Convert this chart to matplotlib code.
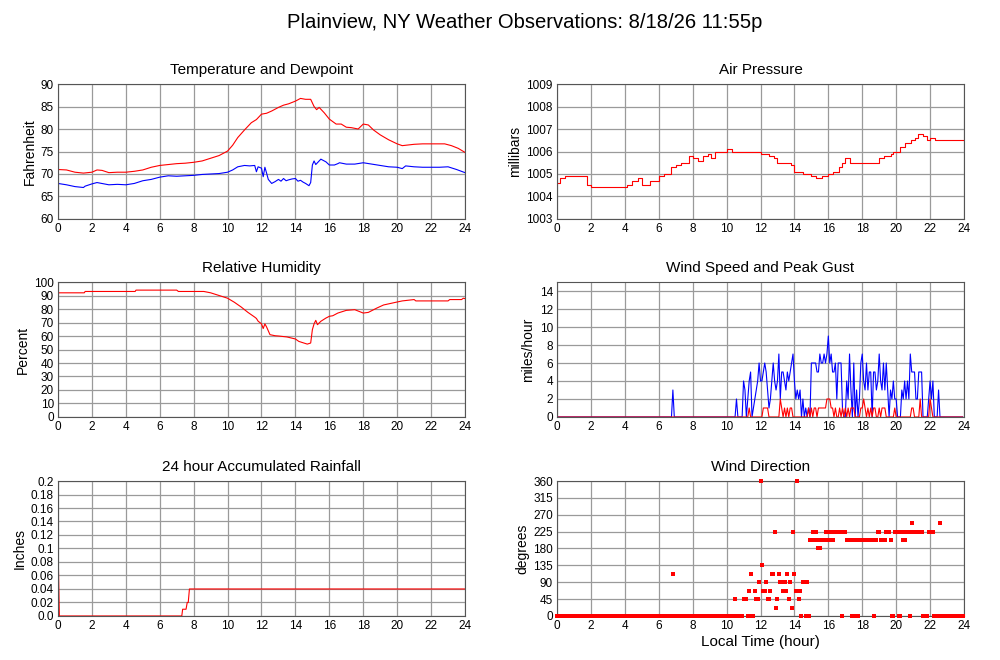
import numpy as np
import matplotlib
matplotlib.use("Agg")
import matplotlib.pyplot as plt

plt.rcParams['font.family'] = ['Liberation Sans', 'DejaVu Sans']

# Temperature and dewpoint (hour, deg F)
temp_hours = [0, 0.5, 1, 1.5, 2, 2.3, 2.6, 3, 3.5, 4, 4.5, 5, 5.5, 6, 6.5, 7, 7.5, 8,
              8.5, 9, 9.5, 10, 10.3, 10.6, 11, 11.4, 11.7, 12, 12.3, 12.6, 13, 13.3,
              13.6, 14, 14.3, 14.6, 14.9, 15.1, 15.25, 15.4, 15.7, 16, 16.4, 16.7, 17,
              17.3, 17.7, 18, 18.3, 18.6, 19, 19.5, 20, 20.3, 21, 21.5, 22, 22.8, 23.2,
              23.6, 24]
temp_vals = [71.0, 70.9, 70.4, 70.2, 70.4, 70.9, 70.8, 70.3, 70.4, 70.4, 70.6, 70.9,
             71.5, 71.9, 72.1, 72.3, 72.4, 72.6, 72.9, 73.5, 74.1, 75.1, 76.4, 78.1,
             79.8, 81.4, 82.1, 83.3, 83.5, 84.0, 84.8, 85.3, 85.6, 86.2, 86.8, 86.6,
             86.6, 85.0, 84.3, 84.8, 83.6, 82.2, 81.1, 81.1, 80.4, 80.3, 80.0, 81.1,
             80.9, 79.8, 78.7, 77.6, 76.7, 76.3, 76.6, 76.7, 76.7, 76.7, 76.3, 75.7,
             74.8]

dew_hours = [0, 0.5, 1, 1.5, 1.6, 2, 2.3, 3, 3.5, 4, 4.5, 5, 5.5, 6, 6.5, 7, 7.5, 8,
             8.5, 9, 9.5, 10, 10.3, 10.6, 11, 11.3, 11.6, 11.7, 11.8, 12.0, 12.1, 12.2,
             12.3, 12.4, 12.6, 12.8, 13, 13.15, 13.3, 13.45, 13.6, 13.8, 14, 14.15,
             14.3, 14.45, 14.6, 14.8, 14.9, 15.0, 15.1, 15.2, 15.3, 15.5, 15.8, 16,
             16.3, 16.5, 16.6, 17, 17.5, 18, 18.5, 19, 19.5, 20, 20.3, 20.5, 21, 21.5,
             22, 22.5, 23, 23.5, 24]
dew_vals = [67.9, 67.6, 67.2, 67.0, 67.3, 67.8, 68.1, 67.6, 67.7, 67.6, 67.9, 68.5,
            68.8, 69.3, 69.6, 69.5, 69.6, 69.7, 69.9, 70.0, 70.1, 70.4, 70.9, 71.6,
            71.9, 71.8, 71.9, 70.5, 71.6, 71.3, 69.4, 71.5, 70.2, 68.8, 67.9, 68.3,
            68.8, 68.4, 69.0, 68.5, 68.7, 68.9, 69.0, 68.4, 68.6, 68.2, 67.9, 67.4,
            68.1, 72.0, 72.9, 72.1, 72.5, 73.3, 72.7, 72.0, 72.0, 72.3, 72.5, 72.2,
            72.2, 72.5, 72.2, 71.9, 71.6, 71.5, 71.2, 71.8, 71.6, 71.5, 71.5, 71.5,
            71.6, 71.0, 70.3]

# Air pressure steps (hour, mb)
pres_hours = [0, 0.15, 0.5, 1.75, 2.0, 4.1, 4.4, 4.6, 4.8, 5.0, 5.5, 6.0, 6.3, 6.7,
              7.0, 7.3, 7.8, 8.0, 8.3, 8.6, 8.9, 9.1, 9.3, 10.0, 10.3, 12.0, 12.5,
              12.8, 13.0, 13.8, 14.0, 14.5, 15.0, 15.3, 15.6, 16.0, 16.3, 16.6, 16.8,
              17.0, 17.3, 19.0, 19.3, 19.7, 19.8, 20.2, 20.5, 20.9, 21.1, 21.3, 21.6,
              21.8, 22.0, 22.3, 24]
pres_vals = [1004.6, 1004.8, 1004.9, 1004.5, 1004.4, 1004.5, 1004.7, 1004.7, 1004.8,
             1004.5, 1004.7, 1004.9, 1005.0, 1005.3, 1005.4, 1005.5, 1005.8, 1005.7,
             1005.6, 1005.8, 1005.9, 1005.7, 1006.0, 1006.1, 1006.0, 1005.9, 1005.8,
             1005.7, 1005.5, 1005.4, 1005.1, 1005.0, 1004.9, 1004.8, 1004.9, 1005.0,
             1005.1, 1005.3, 1005.5, 1005.7, 1005.5, 1005.7, 1005.8, 1005.9, 1006.0,
             1006.2, 1006.4, 1006.5, 1006.6, 1006.8, 1006.7, 1006.5, 1006.6, 1006.5,
             1006.5]

# Relative humidity (hour, %)
rh_hours = [0, 1.55, 1.6, 4.55, 4.6, 7.0, 7.1, 8.6, 9, 9.5, 10, 10.4, 10.8, 11.2,
            11.6, 11.7, 11.8, 12, 12.1, 12.2, 12.3, 12.5, 12.8, 13, 13.5, 14, 14.2,
            14.5, 14.7, 14.9, 15.0, 15.1, 15.2, 15.3, 15.5, 15.8, 16, 16.2, 16.5, 17,
            17.5, 18, 18.3, 18.8, 19.2, 20, 20.3, 21, 21.1, 23, 23.1, 23.8, 23.9, 24]
rh_vals = [92, 92, 93, 93, 94, 94, 93, 93, 92, 90, 88, 85, 81.5, 77.5, 74, 73, 71, 69,
           65.5, 69, 66.7, 61, 60.2, 60, 59.3, 57.8, 56, 54.8, 54, 54.8, 64.7, 69,
           71.6, 68.4, 70.9, 73.3, 74.6, 75, 77, 79, 79.5, 77, 77.5, 80.7, 83, 85.2,
           86, 87, 86, 86, 87, 87, 88, 87.7]

# 24 hour accumulated rainfall (hour, inches)
rain_hours = [0, 0.02, 0.05, 0.08, 7.3, 7.35, 7.55, 7.62, 7.68, 7.75, 24]
rain_vals = [0.105, 0.08, 0.04, 0.0, 0.0, 0.01, 0.01, 0.02, 0.02, 0.04, 0.04]

# Wind, 5-minute samples, one row per hour (mph)
gust_by_hour = [
    [0, 0, 0, 0, 0, 0, 0, 0, 0, 0, 0, 0],
    [0, 0, 0, 0, 0, 0, 0, 0, 0, 0, 0, 0],
    [0, 0, 0, 0, 0, 0, 0, 0, 0, 0, 0, 0],
    [0, 0, 0, 0, 0, 0, 0, 0, 0, 0, 0, 0],
    [0, 0, 0, 0, 0, 0, 0, 0, 0, 0, 0, 0],
    [0, 0, 0, 0, 0, 0, 0, 0, 0, 0, 0, 0],
    [0, 0, 0, 0, 0, 0, 0, 0, 0, 0, 3, 0],
    [0, 0, 0, 0, 0, 0, 0, 0, 0, 0, 0, 0],
    [0, 0, 0, 0, 0, 0, 0, 0, 0, 0, 0, 0],
    [0, 0, 0, 0, 0, 0, 0, 0, 0, 0, 0, 0],
    [0, 0, 0, 0, 0, 0, 0, 2, 0, 0, 0, 0],
    [4, 3, 0, 2, 4, 5, 0, 1, 2, 3, 4, 6],
    [4, 4, 5, 6, 5, 3, 1, 2, 4, 6, 4, 3],
    [4, 7, 2, 5, 5, 4, 3, 5, 4, 5, 6, 7],
    [4, 2, 3, 2, 3, 0, 2, 0, 1, 0, 1, 0],
    [6, 6, 6, 6, 5, 5, 7, 6, 6, 7, 6, 7],
    [9, 6, 7, 5, 5, 6, 2, 6, 6, 6, 1, 0],
    [0, 4, 2, 7, 3, 0, 6, 0, 3, 0, 2, 6],
    [7, 4, 3, 6, 3, 5, 5, 0, 5, 5, 3, 4],
    [7, 4, 3, 6, 3, 6, 3, 0, 3, 2, 4, 2],
    [2, 0, 0, 0, 3, 2, 4, 2, 4, 2, 7, 5],
    [5, 5, 2, 2, 5, 5, 5, 0, 0, 0, 0, 2],
    [4, 2, 4, 0, 0, 0, 3, 0, 0, 0, 0, 0],
    [0, 0, 0, 0, 0, 0, 0, 0, 0, 0, 0, 0],
]
speed_by_hour = [
    [0, 0, 0, 0, 0, 0, 0, 0, 0, 0, 0, 0],
    [0, 0, 0, 0, 0, 0, 0, 0, 0, 0, 0, 0],
    [0, 0, 0, 0, 0, 0, 0, 0, 0, 0, 0, 0],
    [0, 0, 0, 0, 0, 0, 0, 0, 0, 0, 0, 0],
    [0, 0, 0, 0, 0, 0, 0, 0, 0, 0, 0, 0],
    [0, 0, 0, 0, 0, 0, 0, 0, 0, 0, 0, 0],
    [0, 0, 0, 0, 0, 0, 0, 0, 0, 0, 0, 0],
    [0, 0, 0, 0, 0, 0, 0, 0, 0, 0, 0, 0],
    [0, 0, 0, 0, 0, 0, 0, 0, 0, 0, 0, 0],
    [0, 0, 0, 0, 0, 0, 0, 0, 0, 0, 0, 0],
    [0, 0, 0, 0, 0, 0, 0, 0, 0, 0, 0, 0],
    [0, 0, 0, 0, 1, 0, 0, 0, 0, 0, 0, 0],
    [0, 0, 1, 1, 1, 1, 0, 0, 0, 0, 0, 0],
    [0, 0, 2, 1, 0, 1, 0, 1, 0, 1, 1, 0],
    [0, 0, 0, 0, 0, 0, 0, 0, 0, 0, 1, 0],
    [1, 0, 1, 1, 0, 1, 1, 1, 1, 1, 1, 2],
    [2, 2, 1, 1, 0, 1, 0, 0, 1, 0, 1, 0],
    [1, 0, 1, 0, 1, 1, 1, 0, 0, 0, 0, 1],
    [1, 2, 1, 0, 1, 0, 1, 0, 1, 1, 0, 0],
    [1, 0, 1, 1, 1, 0, 0, 0, 0, 0, 0, 1],
    [0, 0, 0, 0, 0, 0, 0, 0, 0, 0, 0, 1],
    [1, 0, 0, 0, 0, 2, 0, 0, 0, 0, 0, 0],
    [2, 1, 0, 0, 0, 0, 0, 0, 0, 0, 0, 0],
    [0, 0, 0, 0, 0, 0, 0, 0, 0, 0, 0, 0],
]
# Wind direction, 5-minute samples, one row per hour (degrees)
dir_by_hour = [
    [0, 0, 0, 0, 0, 0, 0, 0, 0, 0, 0, 0],
    [0, 0, 0, 0, 0, 0, 0, 0, 0, 0, 0, 0],
    [0, 0, 0, 0, 0, 0, 0, 0, 0, 0, 0, 0],
    [0, 0, 0, 0, 0, 0, 0, 0, 0, 0, 0, 0],
    [0, 0, 0, 0, 0, 0, 0, 0, 0, 0, 0, 0],
    [0, 0, 0, 0, 0, 0, 0, 0, 0, 0, 0, 0],
    [0, 0, 0, 0, 0, 0, 0, 0, 0, 0, 112.5, 0],
    [0, 0, 0, 0, 0, 0, 0, 0, 0, 0, 0, 0],
    [0, 0, 0, 0, 0, 0, 0, 0, 0, 0, 0, 0],
    [0, 0, 0, 0, 0, 0, 0, 0, 0, 0, 0, 0],
    [0, 0, 0, 0, 0, 0, 45, 0, 0, 0, 0, 0],
    [45, 45, 45, 0, 67.5, 112.5, 0, 0, 67.5, 45, 45, 90],
    [360, 135, 67.5, 67.5, 90, 45, 45, 67.5, 112.5, 112.5, 225, 22.5],
    [45, 112.5, 90, 90, 67.5, 90, 67.5, 112.5, 45, 90, 22.5, 225],
    [112.5, 67.5, 360, 45, 67.5, 0, 90, 90, 0, 90, 0, 202.5],
    [202.5, 225, 202.5, 225, 202.5, 180, 180, 202.5, 202.5, 202.5, 225, 202.5],
    [202.5, 225, 202.5, 202.5, 225, 225, 225, 225, 225, 225, 0, 225],
    [225, 202.5, 202.5, 202.5, 202.5, 0, 202.5, 0, 202.5, 0, 202.5, 202.5],
    [202.5, 202.5, 202.5, 202.5, 202.5, 202.5, 202.5, 202.5, 0, 202.5, 202.5, 225],
    [225, 202.5, 202.5, 202.5, 202.5, 225, 225, 225, 202.5, 0, 0, 225],
    [225, 225, 0, 0, 225, 202.5, 202.5, 225, 225, 225, 0, 247.5],
    [225, 225, 225, 225, 225, 225, 225, 0, 0, 0, 0, 225],
    [225, 225, 225, 0, 0, 0, 0, 247.5, 0, 0, 0, 0],
    [0, 0, 0, 0, 0, 0, 0, 0, 0, 0, 0, 0],
]

wind_hours = np.arange(24 * 12) / 12.0
gust = np.concatenate(gust_by_hour)
speed = np.concatenate(speed_by_hour)
direction = np.concatenate(dir_by_hour)

fig = plt.figure(figsize=(10, 6.6), dpi=100)
fig.suptitle('Plainview, NY Weather Observations: 8/18/26 11:55p',
             fontsize=14.6, x=0.525, y=0.98)

w = 0.407
h = 0.2045
lefts = [0.058, 0.557]
bottoms = [0.6682, 0.3682, 0.0667]


def style(ax, title, ylabel, ylim, yticks, yticklabels=None):
    ax.set_xlim(0, 24)
    ax.set_xticks(range(0, 25, 2))
    ax.set_ylim(*ylim)
    ax.set_yticks(yticks)
    if yticklabels is not None:
        ax.set_yticklabels(yticklabels)
    ax.grid(True, color='#9a9a9a', lw=0.9)
    ax.set_axisbelow(True)
    ax.tick_params(length=0, labelsize=8.5, pad=3)
    for s in ax.spines.values():
        s.set_color('#555555')
    ax.set_title(title, fontsize=11, pad=7)
    ax.set_ylabel(ylabel, fontsize=10, labelpad=3)


# Temperature and dewpoint
ax = fig.add_axes([lefts[0], bottoms[0], w, h])
ax.plot(temp_hours, temp_vals, color='red', lw=0.8)
ax.plot(dew_hours, dew_vals, color='blue', lw=0.8)
style(ax, 'Temperature and Dewpoint', 'Fahrenheit', (60, 90), range(60, 91, 5))

# Air pressure
ax = fig.add_axes([lefts[1], bottoms[0], w, h])
ax.plot(pres_hours, pres_vals, color='red', lw=0.8, drawstyle='steps-post')
style(ax, 'Air Pressure', 'millibars', (1003, 1009), range(1003, 1010))

# Relative humidity
ax = fig.add_axes([lefts[0], bottoms[1], w, h])
ax.plot(rh_hours, rh_vals, color='red', lw=0.8)
style(ax, 'Relative Humidity', 'Percent', (0, 100), range(0, 101, 10))

# Wind speed and gust
ax = fig.add_axes([lefts[1], bottoms[1], w, h])
ax.plot(wind_hours, gust, color='blue', lw=0.8)
ax.plot(wind_hours, speed, color='red', lw=0.8)
style(ax, 'Wind Speed and Peak Gust', 'miles/hour', (0, 15), range(0, 15, 2))

# Rainfall
ax = fig.add_axes([lefts[0], bottoms[2], w, h])
ax.plot(rain_hours, rain_vals, color='red', lw=0.8)
rain_ticks = np.arange(0, 0.201, 0.02)
rain_labels = ['0.0', '0.02', '0.04', '0.06', '0.08', '0.1', '0.12', '0.14',
               '0.16', '0.18', '0.2']
style(ax, '24 hour Accumulated Rainfall', 'Inches', (0, 0.2), rain_ticks, rain_labels)

# Wind direction
ax = fig.add_axes([lefts[1], bottoms[2], w, h])
ax.plot(wind_hours, direction, 's', color='red', ms=2.2, mew=0, clip_on=False,
        zorder=3)
style(ax, 'Wind Direction', 'degrees', (0, 360), range(0, 361, 45))
ax.set_xlabel('Local Time (hour)', fontsize=11, labelpad=2)

fig.savefig('out.png', dpi=100)
